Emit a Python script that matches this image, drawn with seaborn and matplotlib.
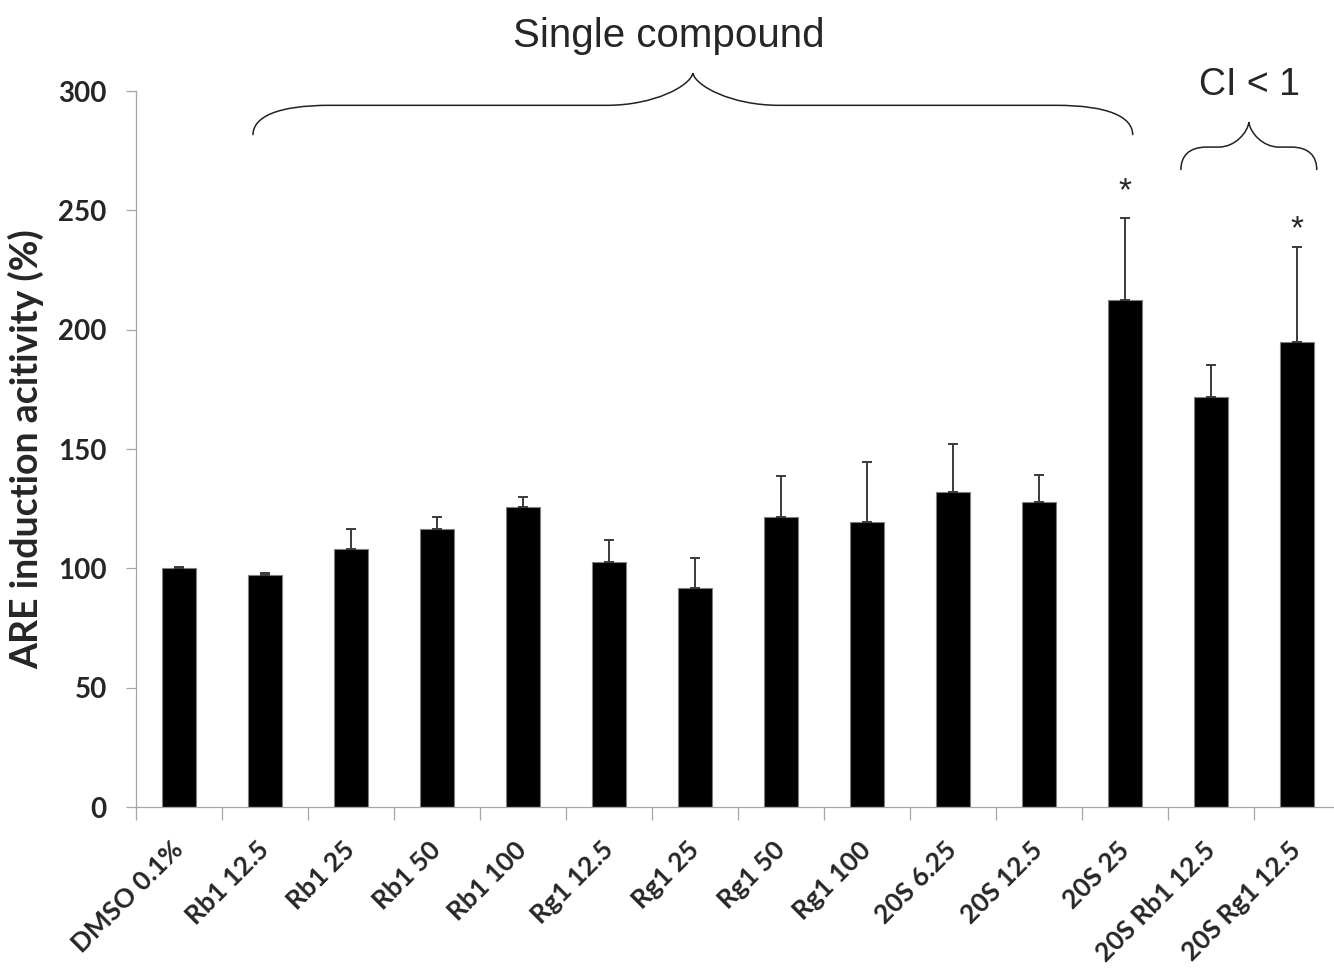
import numpy as np
import pandas as pd
import matplotlib
matplotlib.use('Agg')
import matplotlib.pyplot as plt
from matplotlib.path import Path
from matplotlib.patches import PathPatch
import seaborn as sns

# values
labels = ['DMSO 0.1%', 'Rb1 12.5', 'Rb1 25', 'Rb1 50', 'Rb1 100',
          'Rg1 12.5', 'Rg1 25', 'Rg1 50', 'Rg1 100',
          '20S 6.25', '20S 12.5', '20S 25', '20S Rb1 12.5', '20S Rg1 12.5']
means = [100.0, 97.2, 107.9, 116.3, 125.7, 102.6, 91.6, 121.6, 119.3,
         132.0, 127.6, 212.4, 171.9, 194.7]
errs = [0.5, 1.0, 8.5, 5.2, 4.2, 9.3, 12.7, 17.1, 25.1,
        19.9, 11.4, 34.2, 13.4, 40.0]

# significance stars (category, y of star centre)
star_x = ['20S 25', '20S Rg1 12.5']
star_y = [261.6, 245.9]

sns.set_style('white')
plt.rcParams['font.family'] = ['Lato', 'DejaVu Sans']

df = pd.DataFrame({'treatment': labels, 'activity': means, 'sd': errs})

fig = plt.figure(figsize=(13.34, 9.73), dpi=100)
ax = fig.add_axes([136 / 1334, (973 - 807) / 973, 1204 / 1334, 716 / 973])

sns.barplot(data=df, x='treatment', y='activity', color='black', saturation=1,
            width=0.4, edgecolor='#808080', linewidth=0.8, ax=ax)
xpos = np.arange(len(labels))
ax.errorbar(xpos, df['activity'], yerr=[np.zeros(len(errs)), df['sd']],
            fmt='none', ecolor='#3a3a3a', elinewidth=1.4, capsize=3.4, capthick=1.4)

ax.set_xlim(-0.5, len(labels) - 0.5)
ax.set_ylim(0, 300)
ax.set_yticks(range(0, 301, 50))
ax.set_xlabel('')
ax.set_ylabel('ARE induction acitivity (%)', fontsize=27, fontweight='bold', labelpad=10)

for side in ['top', 'right']:
    ax.spines[side].set_visible(False)
for side in ['left', 'bottom']:
    ax.spines[side].set_color('#a6a6a6')
    ax.spines[side].set_linewidth(0.9)

ax.tick_params(axis='y', direction='out', length=7, width=0.9, color='#a6a6a6',
               pad=14, labelsize=20, left=True)
ax.set_xticks(xpos)
ax.set_xticks(np.arange(-0.5, len(labels)), minor=True)
ax.tick_params(axis='x', which='major', length=0, pad=28)
ax.tick_params(axis='x', which='minor', direction='out', length=9.5, width=0.9,
               color='#a6a6a6', bottom=True)
ax.set_xticklabels(labels, rotation=45, ha='right', va='center',
                   rotation_mode='anchor', fontsize=19)
for t in ax.get_xticklabels() + ax.get_yticklabels():
    t.set_fontweight('bold')


def brace(x0, x1, y_end, y_flat, y_tip, a, b):
    xm = (x0 + x1) / 2
    dy = y_tip - y_flat
    verts = [
        (x0, y_end),
        (x0, y_end + 0.6 * (y_flat - y_end)), (x0 + 0.3 * a, y_flat), (x0 + a, y_flat),
        (xm - b, y_flat),
        (xm - 0.45 * b, y_flat), (xm - 0.03 * b, y_tip - 0.4 * dy), (xm, y_tip),
        (xm + 0.03 * b, y_tip - 0.4 * dy), (xm + 0.45 * b, y_flat), (xm + b, y_flat),
        (x1 - a, y_flat),
        (x1 - 0.3 * a, y_flat), (x1, y_end + 0.6 * (y_flat - y_end)), (x1, y_end),
    ]
    codes = [Path.MOVETO,
             Path.CURVE4, Path.CURVE4, Path.CURVE4,
             Path.LINETO,
             Path.CURVE4, Path.CURVE4, Path.CURVE4,
             Path.CURVE4, Path.CURVE4, Path.CURVE4,
             Path.LINETO,
             Path.CURVE4, Path.CURVE4, Path.CURVE4]
    ax.add_patch(PathPatch(Path(verts, codes), fill=False, lw=1.1,
                           edgecolor='#222222', clip_on=False))


brace(0.86, 11.09, 281.5, 294.0, 307.5, 0.9, 1.0)
brace(11.65, 13.23, 266.9, 276.5, 287.0, 0.3, 0.35)

ax.text(5.70, 318.4, 'Single compound', ha='center', va='baseline',
        fontsize=29, family=['Liberation Sans', 'DejaVu Sans'], clip_on=False)
ax.text(12.45, 298.3, 'CI < 1', ha='center', va='baseline',
        fontsize=27, family=['Liberation Sans', 'DejaVu Sans'], clip_on=False)

for sx, sy in zip(star_x, star_y):
    ax.text(labels.index(sx), sy - 7.5, '*', ha='center', va='baseline',
            fontsize=24, family=['Liberation Sans', 'DejaVu Sans'])

fig.savefig('out.png', dpi=100)
